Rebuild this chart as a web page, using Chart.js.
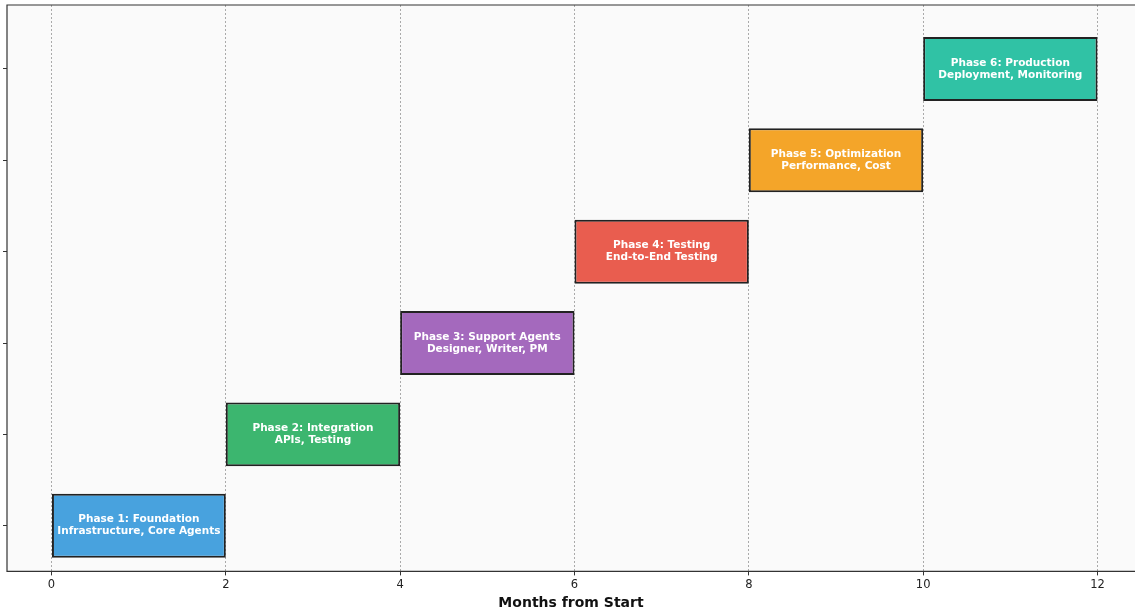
<!DOCTYPE html>
<html>
<head>
<meta charset="utf-8">
<script src="https://cdn.jsdelivr.net/npm/chart.js@4.4.1/dist/chart.umd.min.js"></script>
<style>
  html, body { margin: 0; padding: 0; background: #ffffff; }
  #wrap { width: 1135px; height: 614px; }
</style>
</head>
<body>
<div id="wrap"><canvas id="gantt"></canvas></div>
<script>
// Datos del cronograma
const fases = ['Phase 1: Foundation', 'Phase 2: Integration', 'Phase 3: Support Agents',
               'Phase 4: Testing', 'Phase 5: Optimization', 'Phase 6: Production'];
const detalles = ['Infrastructure, Core Agents', 'APIs, Testing', 'Designer, Writer, PM',
                  'End-to-End Testing', 'Performance, Cost', 'Deployment, Monitoring'];
const inicio = [0, 2, 4, 6, 8, 10];
const fin = [2, 4, 6, 8, 10, 12];
const colores = ['#48a2de', '#3cb66f', '#a469bd', '#e95d4f', '#f4a529', '#30c2a5'];
const ticksMeses = [0, 2, 4, 6, 8, 10, 12];
const filas = [0, 1, 2, 3, 4, 5];

// Fondo y borde del área de trazado (sin borde derecho, queda fuera de la imagen)
const fondoArea = {
    id: 'fondoArea',
    beforeDraw(chart) {
        const { ctx, chartArea: a } = chart;
        ctx.save();
        ctx.fillStyle = '#fafafa';
        ctx.fillRect(a.left, a.top, chart.width - a.left, a.bottom - a.top);
        ctx.restore();
    },
    afterDraw(chart) {
        const { ctx, chartArea: a } = chart;
        ctx.save();
        ctx.strokeStyle = '#333333';
        ctx.lineWidth = 1.2;
        ctx.beginPath();
        ctx.moveTo(chart.width, a.top);
        ctx.lineTo(a.left, a.top);
        ctx.lineTo(a.left, a.bottom);
        ctx.lineTo(chart.width, a.bottom);
        ctx.stroke();
        ctx.restore();
    }
};

// Texto dentro de cada barra
const etiquetas = {
    id: 'etiquetas',
    afterDatasetsDraw(chart) {
        const { ctx } = chart;
        const meta = chart.getDatasetMeta(0);
        ctx.save();
        ctx.fillStyle = '#ffffff';
        ctx.font = 'bold 10.5px "DejaVu Sans"';
        ctx.textAlign = 'center';
        ctx.textBaseline = 'middle';
        meta.data.forEach((bar, i) => {
            const cx = (bar.x + bar.base) / 2;
            ctx.fillText(fases[i], cx, bar.y - 6);
            ctx.fillText(detalles[i], cx, bar.y + 6);
        });
        ctx.restore();
    }
};

const puntos = inicio.map((s, i) => ({ x: [s, fin[i]], y: filas[i] }));

new Chart(document.getElementById('gantt'), {
    type: 'bar',
    data: {
        datasets: [{
            data: puntos,
            backgroundColor: colores,
            borderColor: '#222222',
            borderWidth: 2,
            borderSkipped: false,
            categoryPercentage: 1,
            barPercentage: 0.7
        }]
    },
    options: {
        indexAxis: 'y',
        responsive: true,
        maintainAspectRatio: false,
        animation: false,
        layout: { padding: { left: 3, top: 5, right: -10, bottom: 2 } },
        plugins: {
            legend: { display: false },
            tooltip: { enabled: false }
        },
        scales: {
            x: {
                type: 'linear',
                min: -0.51,
                max: 12.43,
                afterBuildTicks: (scale) => { scale.ticks = ticksMeses.map(v => ({ value: v })); },
                ticks: {
                    color: '#222222',
                    font: { family: 'DejaVu Sans', size: 11.5 },
                    padding: 3
                },
                grid: {
                    color: '#aaaaaa',
                    lineWidth: 1,
                    tickLength: 4,
                    tickColor: '#333333'
                },
                border: { display: false, dash: [2, 2] },
                title: {
                    display: true,
                    text: 'Months from Start',
                    color: '#111111',
                    font: { family: 'DejaVu Sans', size: 14, weight: 'bold' },
                    padding: { top: 0, bottom: 0 }
                }
            },
            y: {
                type: 'linear',
                min: -0.5,
                max: 5.7,
                offset: false,
                afterBuildTicks: (scale) => { scale.ticks = filas.map(v => ({ value: v })); },
                ticks: { display: false },
                grid: {
                    offset: false,
                    drawOnChartArea: false,
                    drawTicks: true,
                    tickLength: 4,
                    tickColor: '#333333'
                },
                border: { display: false }
            }
        }
    },
    plugins: [fondoArea, etiquetas]
});
</script>
</body>
</html>
